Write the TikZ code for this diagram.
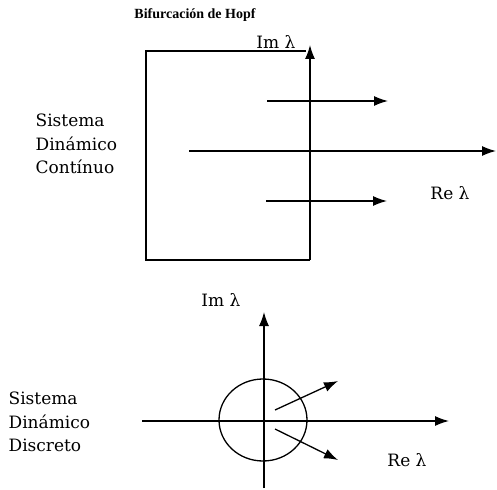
\documentclass[tikz,border=0pt]{standalone}
\usepackage{fontspec}
\setmainfont{DejaVu Serif}
\newfontfamily\titlefont{Liberation Serif}
\usetikzlibrary{shapes.geometric,arrows.meta,positioning}

\begin{document}
\begin{tikzpicture}[x=1pt,y=-1pt,line width=1.3pt,>={Latex[length=14pt,width=10pt]},
  lbl/.style={inner sep=0pt,font=\fontsize{17}{23.5}\selectfont},
  sidetext/.style={lbl,align=left,anchor=west}]
\useasboundingbox (0,0) rectangle (497,489);

% continuo
\node[inner sep=0pt,font=\titlefont\bfseries\fontsize{14}{16}\selectfont] (title) at (195,15) {Bifurcación de Hopf};
\node[lbl] (imc) at (276,42) {Im λ};
\node[lbl] (rec) at (450,193) {Re λ};
\node[sidetext] (contsys) at (35,144) {Sistema\\Dinámico\\Contínuo};

\coordinate (cimtop) at (310,45);
\coordinate (cimbot) at (310,260);
\coordinate (creleft) at (189,151);
\coordinate (creright) at (496,151);
\draw (306,51) -- (146,51) -- (146,260) -- (cimbot);
\draw[->] (cimbot) -- (cimtop);
\draw[->] (creleft) -- (creright);
\coordinate (up1) at (267,101);
\coordinate (up2) at (388,101);
\coordinate (dn1) at (266,201);
\coordinate (dn2) at (387,201);
\draw[->] (up1) -- (up2);
\draw[->] (dn1) -- (dn2);

% discreto
\node[lbl] (imd) at (221,300) {Im λ};
\node[lbl] (red) at (407,460) {Re λ};
\node[sidetext] (discsys) at (8,422) {Sistema\\Dinámico\\Discreto};

\coordinate (dimtop) at (264,312);
\coordinate (dimbot) at (264,488);
\coordinate (dreleft) at (142,421);
\coordinate (dreright) at (449,421);
\draw[->] (dimbot) -- (dimtop);
\draw[->] (dreleft) -- (dreright);
\node[draw,ellipse,minimum width=88pt,minimum height=82pt,inner sep=0pt] (unit) at (263,420) {};
\coordinate (a1) at (275,410);
\coordinate (a2) at (338,381);
\coordinate (b1) at (275,429);
\coordinate (b2) at (338,460);
\draw[->] (a1) -- (a2);
\draw[->] (b1) -- (b2);
\end{tikzpicture}
\end{document}
